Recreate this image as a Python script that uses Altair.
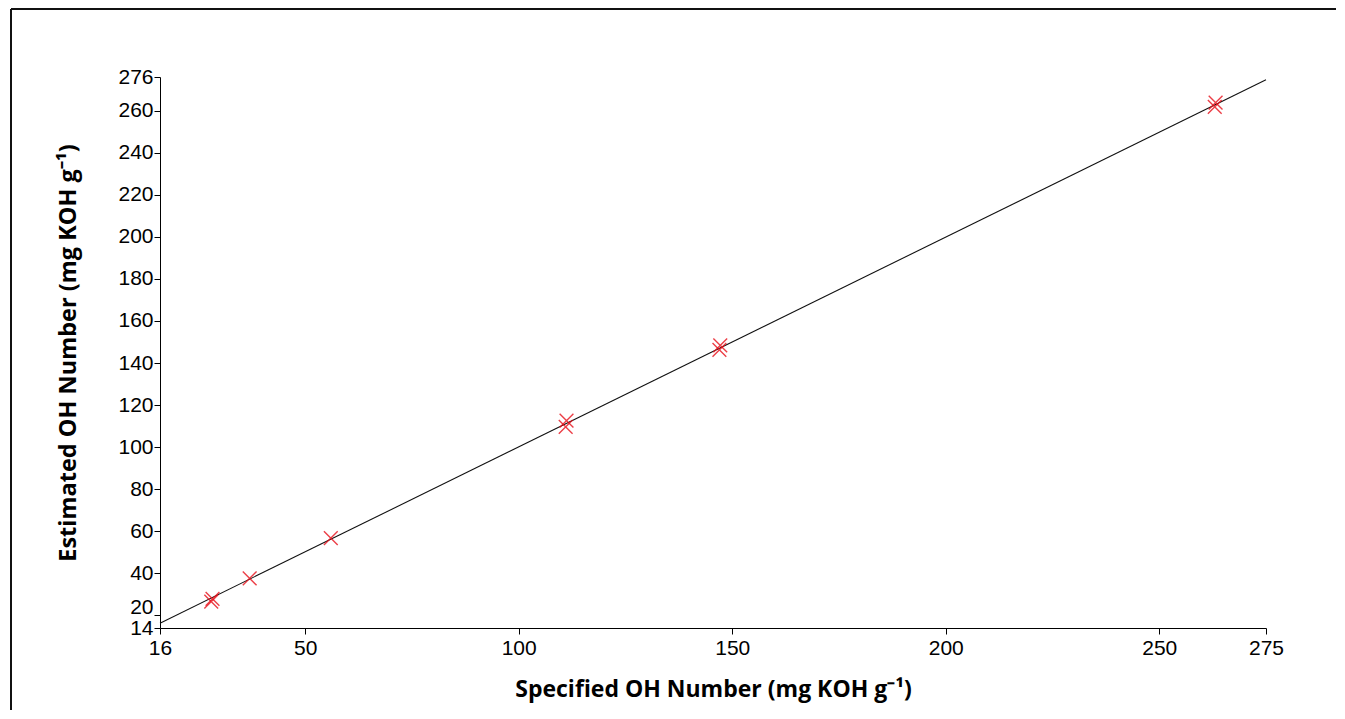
import altair as alt
import pandas as pd

# Data
spec_x = [28, 28.3, 37, 56, 111, 111.2, 147, 147.2, 263, 263.2]
est_y = [26.5, 27.8, 37.6, 56.7, 109.6, 112.6, 146.2, 148.4, 261.8, 263.8]
line_x = [16, 275]
line_y = [16.3, 274.7]
x_ticks = [16, 50, 100, 150, 200, 250, 275]
y_ticks = [14, 20, 40, 60, 80, 100, 120, 140, 160, 180, 200, 220, 240, 260, 276]

pts = pd.DataFrame({"x": spec_x, "y": est_y})
ln = pd.DataFrame({"x": line_x, "y": line_y})

W, H = 1106, 551
LABEL_FONT = "Liberation Sans"
TITLE_FONT = "Open Sans"

xscale = alt.Scale(domain=[16, 275], nice=False, zero=False)
yscale = alt.Scale(domain=[14, 276], nice=False, zero=False)

xaxis = alt.Axis(values=x_ticks, title="Specified OH Number (mg KOH g⁻¹)", grid=False,
                 domainColor="#000", tickColor="#000", tickSize=6, labelPadding=3,
                 labelFont=LABEL_FONT, labelFontSize=21, labelColor="#000",
                 labelOverlap=False, labelFlush=False,
                 titleFont=TITLE_FONT, titleFontSize=23, titleFontWeight="bold",
                 titleColor="#000", titlePadding=20)
yaxis = alt.Axis(values=y_ticks, title="Estimated OH Number (mg KOH g⁻¹)", grid=False,
                 domainColor="#000", tickColor="#000", tickSize=6, labelPadding=1,
                 labelFont=LABEL_FONT, labelFontSize=21, labelColor="#000",
                 labelOverlap=False, labelFlush=False,
                 labelOffset={"condition": {"test": "datum.value == 20", "value": -8}, "value": 0},
                 titleFont=TITLE_FONT, titleFontSize=23.5, titleFontWeight="bold",
                 titleColor="#000", titlePadding=37)

line = alt.Chart(ln).mark_line(color="#111", strokeWidth=1.1).encode(
    x=alt.X("x:Q", scale=xscale, axis=xaxis),
    y=alt.Y("y:Q", scale=yscale, axis=yaxis),
)

cross = alt.Chart(pts).mark_point(
    shape="M-1,-1L1,1M-1,1L1,-1", size=190, filled=False,
    color="#e8101a", strokeWidth=1.4, opacity=0.8
).encode(
    x=alt.X("x:Q", scale=xscale, axis=xaxis),
    y=alt.Y("y:Q", scale=yscale, axis=yaxis),
)

border_df = pd.DataFrame({"k": [0]})
top_border = alt.Chart(border_df).mark_rule(color="#111", strokeWidth=2, clip=False).encode(
    x=alt.value(-149), x2=alt.value(1180), y=alt.value(-68)
)
left_border = alt.Chart(border_df).mark_rule(color="#111", strokeWidth=2, clip=False).encode(
    x=alt.value(-149), y=alt.value(-68), y2=alt.value(645)
)

chart = alt.layer(line, cross, top_border, left_border).properties(
    width=W, height=H,
    autosize=alt.AutoSizeParams(type="none"),
    padding={"left": 152, "top": 69, "right": 70, "bottom": 82},
).configure_view(stroke=None)

chart.save("out.html", embed_options={"renderer": "svg", "actions": False})
